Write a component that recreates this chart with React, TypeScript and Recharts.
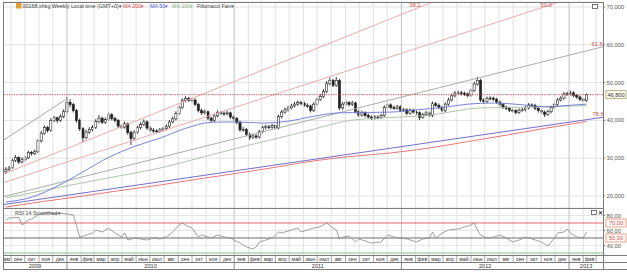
import React from 'react';
import { ComposedChart, Bar, Line, XAxis, YAxis, CartesianGrid, ReferenceLine, ReferenceDot } from 'recharts';

const FONT = '"Liberation Sans", Arial, sans-serif';

// ---------- axis ranges ----------
const X_MIN = -0.94;
const X_MAX = 186.15;
const PRICE_MIN = 16.83;
const PRICE_MAX = 71.32;
const RSI_MIN = 27.33;
const RSI_MAX = 90;

const priceTicks = [20, 30, 40, 50, 60, 70];
const rsiTicks = [40, 60, 80];
const lastPrice = 46.8;
const rsiUpper = 70;
const rsiMid = 50;
const rsiLower = 30;

const monthNames = ['янв', 'фев', 'мар', 'апр', 'май', 'июн', 'июл', 'авг', 'сен', 'окт', 'ноя', 'дек'];
const years = [2009, 2010, 2011, 2012, 2013];

// ---------- weekly candles (week 0 = 21 Aug 2009) ----------
const opens = [
  26.4, 27.0, 27.5, 29.4, 30.2, 29.0, 29.6, 30.1, 31.5, 31.2,
  31.7, 34.6, 36.6, 38.1, 37.3, 40.0, 40.7, 40.0, 41.0, 42.3,
  44.8, 44.2, 42.6, 40.0, 37.8, 35.4, 36.9, 37.6, 38.1, 39.7,
  40.6, 39.5, 40.2, 41.5, 40.5, 40.0, 38.5, 38.2, 39.1, 36.8,
  35.2, 36.9, 38.1, 38.9, 39.6, 38.0, 37.4, 37.2, 37.1, 37.5,
  37.8, 38.4, 39.6, 40.4, 41.8, 43.4, 45.3, 45.8, 45.3, 45.4,
  44.2, 42.6, 42.0, 42.3, 40.6, 40.0, 41.2, 42.1, 41.9, 41.7,
  42.0, 40.9, 40.5, 39.5, 37.5, 37.6, 36.3, 35.5, 35.9, 35.6,
  37.0, 38.1, 38.3, 38.2, 38.6, 38.0, 41.0, 42.2, 42.8, 43.3,
  43.8, 44.3, 44.7, 44.5, 44.0, 43.8, 42.6, 44.3, 45.5, 46.3,
  47.6, 49.7, 50.6, 49.3, 50.6, 43.3, 44.3, 44.7, 44.2, 44.6,
  42.4, 41.4, 42.0, 41.3, 40.9, 40.6, 40.9, 40.8, 41.3, 43.4,
  44.1, 43.4, 43.2, 43.6, 42.7, 42.8, 41.9, 42.7, 42.2, 42.0,
  40.8, 41.5, 42.0, 41.3, 44.4, 44.0, 43.5, 42.6, 44.3, 45.4,
  46.5, 47.2, 47.3, 47.1, 47.0, 46.6, 47.9, 49.6, 50.6, 45.4,
  45.0, 45.8, 45.9, 45.6, 44.9, 44.2, 43.5, 43.2, 42.7, 42.6,
  42.1, 42.7, 42.8, 43.3, 44.1, 44.0, 43.2, 42.6, 42.2, 41.6,
  42.3, 43.4, 44.2, 45.4, 45.9, 47.0, 47.1, 47.3, 46.6, 46.2,
  45.6, 45.3,
];
const highs = [
  27.6, 28.0, 29.9, 30.8, 30.5, 30.2, 30.6, 32.0, 31.9, 32.3,
  35.0, 37.2, 38.7, 38.5, 40.6, 41.2, 41.0, 41.6, 42.9, 46.2,
  45.6, 44.6, 43.0, 40.5, 38.2, 37.5, 38.2, 38.8, 40.3, 41.4,
  41.0, 40.8, 42.2, 41.9, 41.0, 40.4, 39.0, 39.7, 39.4, 37.3,
  37.4, 38.6, 39.5, 40.3, 40.0, 38.5, 38.0, 37.7, 38.0, 38.3,
  39.0, 40.1, 41.0, 42.4, 44.0, 45.9, 46.4, 46.2, 46.0, 45.8,
  44.6, 43.1, 42.9, 42.6, 41.0, 41.8, 42.7, 42.5, 42.4, 42.6,
  42.3, 41.3, 40.9, 39.9, 38.2, 38.0, 36.8, 36.5, 36.3, 37.5,
  38.6, 38.9, 38.8, 39.1, 39.0, 41.5, 42.8, 43.4, 43.9, 44.4,
  44.9, 45.3, 45.2, 45.0, 44.5, 44.2, 44.8, 46.1, 47.0, 48.3,
  50.4, 51.3, 51.0, 51.5, 51.0, 44.9, 45.3, 45.1, 45.2, 45.0,
  42.8, 42.6, 42.4, 41.8, 41.3, 41.4, 41.3, 41.8, 44.0, 44.7,
  44.5, 43.9, 44.1, 44.0, 43.3, 43.2, 43.2, 43.1, 42.7, 42.4,
  42.0, 42.5, 42.4, 45.0, 44.9, 44.5, 43.9, 44.8, 46.0, 47.1,
  47.8, 47.9, 47.8, 47.6, 47.4, 48.4, 50.2, 51.5, 51.0, 45.9,
  46.3, 46.4, 46.3, 46.0, 45.3, 44.6, 43.9, 43.6, 43.1, 43.0,
  43.2, 43.3, 43.8, 44.6, 44.5, 44.4, 43.6, 43.0, 42.6, 42.8,
  43.9, 44.7, 45.9, 46.4, 47.5, 47.6, 47.9, 47.7, 47.0, 46.6,
  46.0, 47.1,
];
const lows = [
  25.9, 26.6, 27.2, 29.0, 28.5, 28.6, 29.2, 29.8, 30.7, 30.8,
  31.3, 34.1, 36.2, 36.8, 37.0, 39.5, 39.4, 39.6, 40.6, 41.9,
  43.5, 42.1, 39.4, 37.2, 34.3, 35.0, 36.4, 37.1, 37.7, 39.2,
  39.0, 39.1, 39.8, 40.0, 39.5, 38.0, 37.7, 37.8, 36.2, 33.5,
  34.8, 36.5, 37.6, 38.5, 37.5, 36.9, 36.7, 36.6, 36.7, 37.0,
  37.4, 38.0, 39.2, 40.0, 41.4, 43.0, 44.8, 44.9, 44.8, 43.8,
  42.1, 41.5, 41.6, 40.1, 39.5, 39.6, 40.8, 41.4, 41.2, 41.3,
  40.4, 40.0, 39.0, 37.0, 37.0, 35.8, 34.8, 35.1, 35.1, 35.2,
  36.6, 37.6, 37.7, 37.8, 37.5, 37.6, 40.5, 41.8, 42.3, 42.9,
  43.4, 43.9, 44.0, 43.5, 43.3, 42.1, 42.2, 43.9, 45.1, 45.9,
  47.2, 49.2, 48.8, 48.9, 42.7, 42.8, 43.8, 43.7, 43.8, 41.9,
  40.9, 41.0, 40.8, 40.4, 40.1, 40.2, 40.3, 40.4, 40.9, 43.0,
  42.9, 42.8, 42.8, 42.2, 42.3, 41.4, 41.5, 41.8, 41.5, 40.1,
  40.4, 41.1, 40.8, 40.9, 43.6, 43.0, 42.1, 42.2, 43.9, 45.0,
  46.1, 46.8, 46.6, 46.5, 46.1, 46.2, 47.5, 49.2, 44.9, 44.5,
  44.6, 45.3, 45.1, 44.4, 43.7, 43.0, 42.7, 42.2, 42.1, 41.6,
  41.7, 42.3, 42.4, 42.9, 43.6, 42.7, 42.1, 41.7, 40.9, 41.2,
  41.9, 43.0, 43.8, 45.0, 45.5, 46.5, 46.6, 46.1, 45.7, 45.1,
  44.8, 44.9,
];
const closes = [
  27.0, 27.4, 29.4, 30.2, 29.0, 29.6, 30.1, 31.5, 31.2, 31.7,
  34.6, 36.6, 38.1, 37.3, 40.0, 40.7, 40.0, 41.0, 42.3, 44.8,
  44.2, 42.6, 40.0, 37.8, 35.4, 36.9, 37.6, 38.1, 39.7, 40.6,
  39.5, 40.2, 41.5, 40.5, 40.0, 38.5, 38.2, 39.1, 36.8, 35.2,
  36.9, 38.1, 38.9, 39.6, 38.0, 37.4, 37.2, 37.1, 37.5, 37.8,
  38.4, 39.6, 40.4, 41.8, 43.4, 45.3, 45.8, 45.3, 45.4, 44.2,
  42.6, 42.0, 42.3, 40.6, 40.0, 41.2, 42.1, 41.9, 41.7, 42.0,
  40.9, 40.5, 39.5, 37.5, 37.6, 36.3, 35.5, 35.9, 35.6, 37.0,
  38.1, 38.3, 38.2, 38.6, 38.0, 41.0, 42.2, 42.8, 43.3, 43.8,
  44.3, 44.7, 44.5, 44.0, 43.8, 42.6, 44.3, 45.5, 46.3, 47.6,
  49.7, 50.6, 49.3, 50.6, 43.3, 44.3, 44.7, 44.2, 44.6, 42.4,
  41.4, 42.0, 41.3, 40.9, 40.6, 40.9, 40.8, 41.3, 43.4, 44.1,
  43.4, 43.2, 43.6, 42.7, 42.8, 41.9, 42.7, 42.2, 42.0, 40.8,
  41.5, 42.0, 41.3, 44.4, 44.0, 43.5, 42.6, 44.3, 45.4, 46.5,
  47.2, 47.3, 47.1, 47.0, 46.6, 47.9, 49.6, 50.6, 45.4, 45.0,
  45.8, 45.9, 45.6, 44.9, 44.2, 43.5, 43.2, 42.7, 42.6, 42.1,
  42.7, 42.8, 43.3, 44.1, 44.0, 43.2, 42.6, 42.2, 41.6, 42.3,
  43.4, 44.2, 45.4, 45.9, 47.0, 47.1, 47.3, 46.6, 46.2, 45.6,
  45.3, 46.8,
];

// ---------- moving averages (week index, value) ----------
const ma200Weeks = [0, 12, 24, 36, 48, 60, 72, 84, 96, 108, 120, 132, 144, 156, 168, 181];
const ma200Values = [17.1, 18.6, 20.0, 21.5, 22.9, 24.5, 26.0, 27.6, 29.3, 30.5, 31.4, 32.7, 34.4, 36.1, 37.9, 39.7];
const ma50Weeks = [0, 8, 16, 24, 32, 40, 48, 56, 64, 72, 80, 88, 96, 104, 112, 120, 128, 136, 144, 152, 160, 168, 176, 181];
const ma50Values = [18.4, 19.7, 22.6, 26.4, 30.2, 33.1, 35.3, 37.9, 39.5, 39.6, 39.3, 39.8, 41.1, 42.0, 42.1, 42.2, 42.8, 43.4, 44.3, 44.6, 44.2, 43.6, 44.0, 44.3];
const ma100Weeks = [0, 16, 32, 48, 64, 76, 92, 108, 116, 132, 148, 164, 181];
const ma100Values = [19.5, 22.2, 24.8, 27.4, 30.9, 33.5, 36.8, 40.1, 40.6, 41.4, 43.3, 43.5, 43.9];

// ---------- RSI 14 smoothed ----------
const rsiWeeks = [
  0, 1, 4, 5, 7, 8, 10, 12, 14, 15, 17, 19, 21, 23, 25, 27, 28, 30, 32, 34,
  36, 37, 38, 40, 42, 44, 46, 48, 50, 52, 54, 55, 56, 58, 60, 61, 64, 66, 68, 70,
  71, 73, 75, 77, 78, 79, 81, 83, 85, 86, 89, 91, 92, 94, 96, 98, 99, 100, 102, 103,
  104, 105, 107, 109, 110, 113, 114, 117, 119, 121, 123, 125, 128, 130, 132, 133, 134, 136, 138, 141,
  143, 145, 146, 147, 148, 150, 152, 154, 156, 158, 160, 162, 164, 167, 169, 171, 172, 174, 175, 176,
  178, 180, 181,
];
const rsiValues = [
  74, 76.7, 77.3, 67.3, 74, 75.3, 80.7, 83.3, 83.3, 82, 83, 82, 80.7, 51.3, 54, 56.7, 60.7, 58, 63, 56.7,
  51.3, 56.7, 47.3, 50, 48.7, 47.3, 50, 48.7, 51.3, 58, 67.3, 70, 67.3, 63.3, 51.3, 54, 50, 54, 51.3, 50,
  47.3, 43.3, 38, 35.3, 38, 44.7, 47.3, 50, 58, 56.7, 60.7, 63.3, 58, 60.7, 63.3, 65, 67.3, 70, 63.3, 60.7,
  48.7, 51.3, 52.7, 44.7, 48.7, 44.7, 43.3, 44.7, 54, 51.3, 50, 48.7, 44.7, 48.7, 50, 58, 50, 56.7, 60.7, 62,
  64.7, 67.3, 70, 60.7, 54, 50, 51.3, 54, 50, 44.7, 47.3, 51.3, 48.7, 44.7, 39.3, 50, 56.7, 58, 62, 56.7,
  51.3, 50, 58,
];

// ---------- Fibonacci fan (segments in week / price space) ----------
const fanLines = [
  { ratio: '0', color: '#ababab', from: [-0.94, 34.7], to: [19.3, 45.9] },
  { ratio: '38.2', color: '#ecadad', from: [-0.94, 25.77], to: [186.15, 89.42] },
  { ratio: '50.0', color: '#ecadad', from: [-0.94, 23.49], to: [186.15, 75.08] },
  { ratio: '61.8', color: '#a9ada9', from: [-0.94, 19.8], to: [186.15, 59.48] },
  { ratio: '78.6', color: '#7370cc', from: [-0.94, 17.73], to: [186.15, 40.82] },
];
const fanLabels = [
  { text: '38.2', week: 127.5, price: 70.6 },
  { text: '50.0', week: 168.4, price: 70.6 },
  { text: '61.8', week: 184.3, price: 60.3 },
  { text: '78.6', week: 184.6, price: 41.8 },
];

// ---------- derived tables ----------
const candles = closes.map((c, i) => ({ i, o: opens[i], h: highs[i], l: lows[i], c, range: [lows[i], highs[i]] }));
const pairs = (w: number[], v: number[]) => w.map((i, k) => ({ i, v: v[k] }));
const ma200Data = pairs(ma200Weeks, ma200Values);
const ma50Data = pairs(ma50Weeks, ma50Values);
const ma100Data = pairs(ma100Weeks, ma100Values);
const rsiData = pairs(rsiWeeks, rsiValues);

const FIRST_WEEK = Date.UTC(2009, 7, 21);
const WEEK_MS = 7 * 24 * 3600 * 1000;
const weekOf = (y: number, m: number) => (Date.UTC(y, m, 1) - FIRST_WEEK) / WEEK_MS;

type TickInfo = { kind: 'mb' | 'yb' | 'm' | 'y'; label?: string };
const tickKinds = new Map<string, TickInfo>();
const dateTicks: number[] = [];
const addTick = (v: number, info: TickInfo) => {
  const k = v.toFixed(4);
  if (!tickKinds.has(k)) {
    dateTicks.push(v);
    tickKinds.set(k, info);
  }
};
const monthBounds: { v: number; yearStart: boolean }[] = [];
{
  let y = 2009;
  let m = 7;
  while (y < 2013 || (y === 2013 && m <= 2)) {
    const ny = m === 11 ? y + 1 : y;
    const nm = (m + 1) % 12;
    const s0 = weekOf(y, m);
    const s = Math.max(s0, X_MIN);
    const e = Math.min(weekOf(ny, nm), X_MAX);
    if (s0 > X_MIN) monthBounds.push({ v: s0, yearStart: m === 0 });
    if (e - s >= 2.4) addTick((s + e) / 2, { kind: 'm', label: monthNames[m] });
    y = ny;
    m = nm;
  }
  monthBounds.forEach((b) => addTick(b.v, { kind: b.yearStart ? 'yb' : 'mb' }));
  years.forEach((yr) => {
    const s = Math.max(weekOf(yr, 0), X_MIN);
    const e = Math.min(weekOf(yr + 1, 0), X_MAX);
    addTick((s + e) / 2, { kind: 'y', label: String(yr) });
  });
}

const fmtPrice = (v: number) => v.toFixed(3).replace('.', ',');
const fmtRsi = (v: number) => v.toFixed(2).replace('.', ',');

// ---------- shapes ----------
const Candle = (props: any) => {
  const { x, y, width, height, payload } = props;
  if (!payload || x == null) return <g />;
  const top = Math.min(y, y + height);
  const bot = Math.max(y, y + height);
  const span = payload.h - payload.l;
  const k = span > 0 ? (bot - top) / span : 0;
  const yo = top + (payload.h - payload.o) * k;
  const yc = top + (payload.h - payload.c) * k;
  const cx = x + width / 2;
  const up = payload.c >= payload.o;
  return (
    <g>
      <line x1={cx} x2={cx} y1={top} y2={bot} stroke="#242424" strokeWidth={0.9} />
      <rect x={cx - 1.1} y={Math.min(yo, yc)} width={2.2} height={Math.max(0.8, Math.abs(yc - yo))}
        fill={up ? '#ffffff' : '#242424'} stroke="#242424" strokeWidth={0.6} />
    </g>
  );
};

const Tag = ({ viewBox, text, stroke, color, fill }: any) => {
  if (!viewBox) return null;
  const x = viewBox.x + viewBox.width + 3;
  const y = viewBox.y;
  return (
    <g>
      <rect x={x} y={y - 4} width={20} height={8} fill={fill} stroke={stroke} strokeWidth={0.7} />
      <text x={x + 10} y={y + 2} textAnchor="middle" fontSize={5.6} fill={color}>{text}</text>
    </g>
  );
};

const renderDateTick = (props: any) => {
  const { x, y, payload } = props;
  const info = tickKinds.get(Number(payload.value).toFixed(4));
  if (!info) return <g />;
  if (info.kind === 'yb') return <line x1={x} x2={x} y1={y} y2={y + 15} stroke="#8a8a8a" strokeWidth={1} />;
  if (info.kind === 'mb') return <line x1={x} x2={x} y1={y} y2={y + 7} stroke="#a4a4a4" strokeWidth={1} />;
  if (info.kind === 'm')
    return <text x={x} y={y + 5.6} textAnchor="middle" fontSize={5.2} fill="#333">{info.label}</text>;
  return <text x={x} y={y + 13.2} textAnchor="middle" fontSize={5.6} fill="#333">{info.label}</text>;
};

const monthGrid = (prefix: string) =>
  monthBounds.map((b) => (
    <ReferenceLine key={prefix + b.v.toFixed(3)} x={b.v} stroke={b.yearStart ? '#c2c2c2' : '#e2e2e2'} strokeWidth={1} />
  ));

export default function App() {
  return (
    <div style={{ position: 'absolute', left: 0, top: 0, width: 627, height: 272, background: '#fff', fontFamily: FONT, overflow: 'hidden' }}>
      <div style={{ position: 'absolute', left: 0, top: 0 }}>
        <ComposedChart width={627} height={208} data={candles} margin={{ top: 2, right: 0, bottom: 0, left: 3 }}>
          <CartesianGrid vertical={false} stroke="#e2e2e2" />
          <XAxis dataKey="i" type="number" domain={[X_MIN, X_MAX]} allowDataOverflow hide />
          <YAxis orientation="right" type="number" domain={[PRICE_MIN, PRICE_MAX]} allowDataOverflow ticks={priceTicks}
            interval={0} tickFormatter={fmtPrice} width={24} axisLine={false} tickSize={2} tickMargin={1.5}
            tick={{ fontSize: 5.8, fill: '#555' }} tickLine={{ stroke: '#777' }} />
          {monthGrid('m')}
          {fanLines.map((f) => (
            <ReferenceLine key={'fan' + f.ratio} segment={[{ x: f.from[0], y: f.from[1] }, { x: f.to[0], y: f.to[1] }]}
              stroke={f.color} strokeWidth={1} ifOverflow="hidden" />
          ))}
          <ReferenceLine y={lastPrice} stroke="#d24a4a" strokeDasharray="1.2 1.2"
            label={<Tag text={fmtPrice(lastPrice)} stroke="#a39658" color="#333" fill="#fffdf2" />} />
          <Line data={ma200Data} dataKey="v" type="monotone" stroke="#e26a6a" strokeWidth={0.9} dot={false} isAnimationActive={false} />
          <Line data={ma100Data} dataKey="v" type="monotone" stroke="#a3bfa3" strokeWidth={0.9} dot={false} isAnimationActive={false} />
          <Line data={ma50Data} dataKey="v" type="monotone" stroke="#6876d2" strokeWidth={0.9} dot={false} isAnimationActive={false} />
          <Bar dataKey="range" barSize={3} shape={(p: any) => <Candle {...p} />} isAnimationActive={false} />
          {fanLabels.map((l) => (
            <ReferenceDot key={'fl' + l.text} x={l.week} y={l.price} r={0} fill="none" stroke="none" ifOverflow="visible"
              label={{ value: l.text, position: 'center', fill: '#d05454', fontSize: 5.8 }} />
          ))}
        </ComposedChart>
      </div>
      <div style={{ position: 'absolute', left: 0, top: 208 }}>
        <ComposedChart width={627} height={64} data={rsiData} margin={{ top: 0, right: 0, bottom: 0, left: 3 }}>
          <CartesianGrid vertical={false} stroke="#e6e6e6" />
          <XAxis dataKey="i" type="number" domain={[X_MIN, X_MAX]} allowDataOverflow ticks={dateTicks} interval={0}
            height={17} axisLine={false} tickLine={false} tickSize={0} tickMargin={0} tick={renderDateTick} />
          <YAxis orientation="right" type="number" domain={[RSI_MIN, RSI_MAX]} allowDataOverflow ticks={rsiTicks}
            interval={0} tickFormatter={fmtRsi} width={24} axisLine={false} tickSize={2} tickMargin={1.5}
            tick={{ fontSize: 5.8, fill: '#555' }} tickLine={{ stroke: '#777' }} />
          {monthGrid('r')}
          <ReferenceLine y={rsiLower} stroke="#86c686" />
          <ReferenceLine y={rsiMid} stroke="#6e6e6e"
            label={<Tag text={fmtRsi(rsiMid)} stroke="#e07a5a" color="#d04a3a" fill="#fff" />} />
          <ReferenceLine y={rsiUpper} stroke="#e06a6a"
            label={<Tag text={fmtRsi(rsiUpper)} stroke="#e07a5a" color="#d04a3a" fill="#fff" />} />
          <Line dataKey="v" type="linear" stroke="#888888" strokeWidth={0.8} dot={false} isAnimationActive={false} />
        </ComposedChart>
      </div>
      <svg width={627} height={272} style={{ position: 'absolute', left: 0, top: 0, pointerEvents: 'none' }}>
        <g stroke="#7c7c7c" strokeWidth={1} fill="none">
          <line x1={3} x2={603.5} y1={2.5} y2={2.5} />
          <line x1={3.5} x2={3.5} y1={2} y2={270} />
          <line x1={603.5} x2={603.5} y1={2} y2={270} />
          <line x1={3} x2={603.5} y1={208.5} y2={208.5} />
          <line x1={3} x2={627} y1={255.5} y2={255.5} />
          <line x1={3} x2={627} y1={262.5} y2={262.5} />
          <line x1={3} x2={627} y1={269.5} y2={269.5} />
        </g>
        <rect x={16} y={3} width={5.5} height={5.5} fill="#e3a032" />
        <text x={22.5} y={8} fontSize={5.4} fill="#444">00168.xhkg Weekly Local time (GMT+0)▾</text>
        <text x={123} y={8} fontSize={5.4} fill="#d84a4a">MA 200▾</text>
        <text x={150} y={8} fontSize={5.4} fill="#4a5ad0">MA 50▾</text>
        <text x={172} y={8} fontSize={5.4} fill="#86b486">MA 100▾</text>
        <text x={197} y={8} fontSize={5.4} fill="#444">Fibonacci Fan▾</text>
        <rect x={592.5} y={4.5} width={5} height={4} fill="#fff" stroke="#555" strokeWidth={0.8} />
        <text x={15} y={215} fontSize={5.4} fill="#444">RSI 14 Smoothed▾</text>
        <rect x={591.5} y={210.5} width={5} height={4} fill="#fff" stroke="#555" strokeWidth={0.8} />
        <text x={598} y={215} fontSize={6} fill="#333" fontWeight="bold">✕</text>
      </svg>
    </div>
  );
}
